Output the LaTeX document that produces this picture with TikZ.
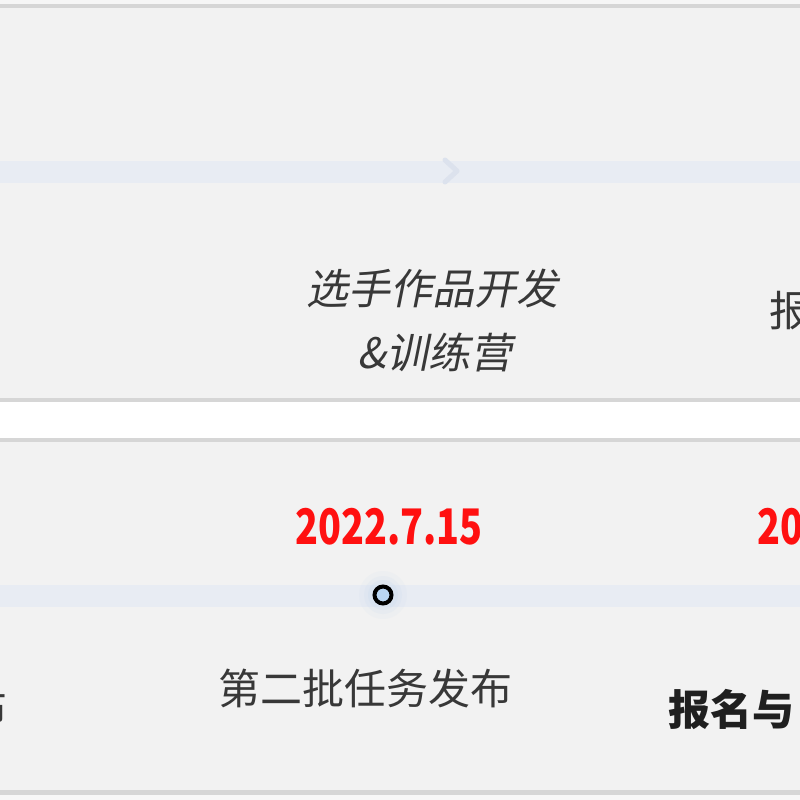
\documentclass[tikz,border=0pt]{standalone}
\usepackage{fontspec}
\newfontfamily\cjk{Noto Sans CJK SC}
\newfontfamily\cjkit[FakeSlant=0.2]{Noto Sans CJK SC}
\definecolor{panel}{HTML}{F2F2F2}
\definecolor{rim}{HTML}{D6D6D6}
\definecolor{band}{HTML}{E8ECF3}
\definecolor{chev}{HTML}{DCE2ED}
\definecolor{datered}{HTML}{FF1010}
\definecolor{txtgray}{HTML}{383838}
\definecolor{dotfill}{HTML}{B9D5F2}
\definecolor{glow}{HTML}{C4D8F0}
\newcommand{\narrowdate}[1]{\scalebox{0.77}[1]{#1}}
\tikzset{
  cjktext/.style={inner sep=0pt, font=\cjk\fontsize{42}{48}\selectfont, text=txtgray},
  itext/.style={inner sep=0pt, font=\cjkit\fontsize{42}{48}\selectfont, text=txtgray},
  boldtext/.style={inner sep=0pt, font=\cjk\bfseries\fontsize{42}{48}\selectfont, text=black!88},
  datetext/.style={inner sep=0pt, font=\cjk\bfseries\fontsize{49}{52}\selectfont, text=datered},
  dot/.style={circle, draw=black, line width=4pt, fill=dotfill, minimum size=17pt, inner sep=0pt},
}
\begin{document}
\begin{tikzpicture}[x=1pt, y=-1pt]
\useasboundingbox (0,0) rectangle (800,800);
\clip (0,0) rectangle (800,800);
% background
\fill[white] (0,0) rectangle (800,800);
\fill[panel!70!white] (0,0) rectangle (800,4);
% top panel
\fill[rim] (0,4) rectangle (800,8);
\fill[panel] (0,8) rectangle (800,398);
\fill[rim] (0,398) rectangle (800,402);
% bottom panel
\fill[rim] (0,438) rectangle (800,442);
\fill[panel] (0,442) rectangle (800,790);
\fill[rim] (0,790) rectangle (800,795);
\fill[panel!60!white] (0,795) rectangle (800,800);
% bands
\fill[band] (0,161) rectangle (800,183);
\fill[band] (0,585) rectangle (800,607);
% chevron on top band
\coordinate (c1) at (445,160);
\coordinate (c2) at (457,171);
\coordinate (c3) at (445,182);
\draw[chev, line width=5pt, line join=round, line cap=round] (c1) -- (c2) -- (c3);
% top panel texts
\node[itext] (t1) at (432,289) {选手作品开发};
\node[itext] (t2) at (435,352) {\&训练营};
\node[cjktext, anchor=west] (t3) at (769,311) {报};
% bottom panel
\node[datetext] (d1) at (389,527) {\narrowdate{2022.7.15}};
\node[datetext, anchor=west] (d2) at (757,527) {\narrowdate{20}};
\foreach \r/\o in {24/0.10, 19/0.14, 15/0.20} {
  \fill[glow, opacity=\o] (383,595) circle[radius=\r];
}
\node[dot] (p1) at (383,595) {};
\node[cjktext] (l1) at (365,688) {第二批任务发布};
\node[boldtext, anchor=west] (l2) at (668,709) {报名与};
\node[cjktext, anchor=east] (l0) at (8,708) {布};
\end{tikzpicture}
\end{document}
